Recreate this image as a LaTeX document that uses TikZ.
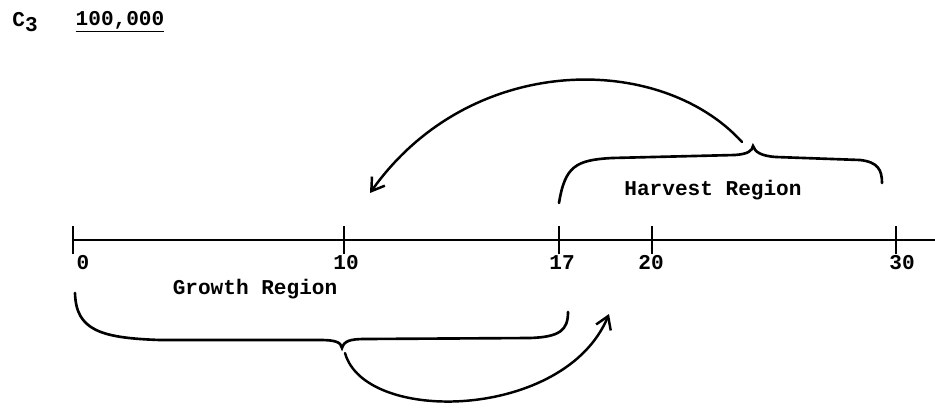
\documentclass[tikz,border=0pt]{standalone}
\usepackage{fontspec}
\setmonofont{Liberation Mono}
\usetikzlibrary{arrows.meta}

\begin{document}
\begin{tikzpicture}[x=0.02cm,y=-0.02cm,
  every node/.style={font=\ttfamily\bfseries\fontsize{12}{14}\selectfont},
  brace/.style={line width=1.5pt,line cap=round},
  jump/.style={line width=1.4pt,line cap=round,-{Straight Barb[length=7pt,width=9pt]}}]
\useasboundingbox (0,0) rectangle (935,409);
\coordinate (T0) at (73,240);
\coordinate (T10) at (344,240);
\coordinate (T17) at (559,240);
\coordinate (T20) at (652,240);
\coordinate (T30) at (896,240);
\coordinate (E) at (935,240);
% time axis
\draw[line width=1.1pt] (T0)--(E);
\foreach \t in {T0,T10,T17,T20,T30}
  \draw[line width=1.3pt] ([yshift=-8]\t)--([yshift=8]\t);
\node at (83,263) {0};
\node at (346,263) {10};
\node at (562,263) {17};
\node at (651,263) {20};
\node at (902,263) {30};
% title
\node (cname) at (25,22) {C\raisebox{-0.45ex}{3}};
\node (cval) at (120,22) {\underline{100,000}};
% harvest brace
\coordinate (Htip) at (753,146);
\draw[brace] (559,203) .. controls (565,166) and (576,160) .. (612,158)
  -- (735,155) .. controls (748,154) and (752,151) .. (Htip)
  .. controls (755,152) and (761,156) .. (776,157)
  -- (860,160) .. controls (878,162) and (882,170) .. (882,183);
\node (harvest) at (713,190) {Harvest Region};
% growth brace
\coordinate (Gtip) at (342,348);
\draw[brace] (75,293) .. controls (76,330) and (100,338) .. (160,340)
  -- (320,340) .. controls (335,340) and (341,342) .. (Gtip)
  .. controls (344,341) and (350,339) .. (365,339)
  -- (530,338) .. controls (560,337) and (568,330) .. (568,312);
\node (growth) at (255,289) {Growth Region};
% arrows between regions
\coordinate (Hout) at (742,142);
\coordinate (Hin) at (370,193);
\coordinate (Gout) at (345,353);
\coordinate (Gin) at (609,314);
\draw[jump] (Hout) .. controls (660,52) and (470,52) .. (Hin);
\draw[jump] (Gout) .. controls (365,425) and (565,420) .. (Gin);
\end{tikzpicture}
\end{document}
